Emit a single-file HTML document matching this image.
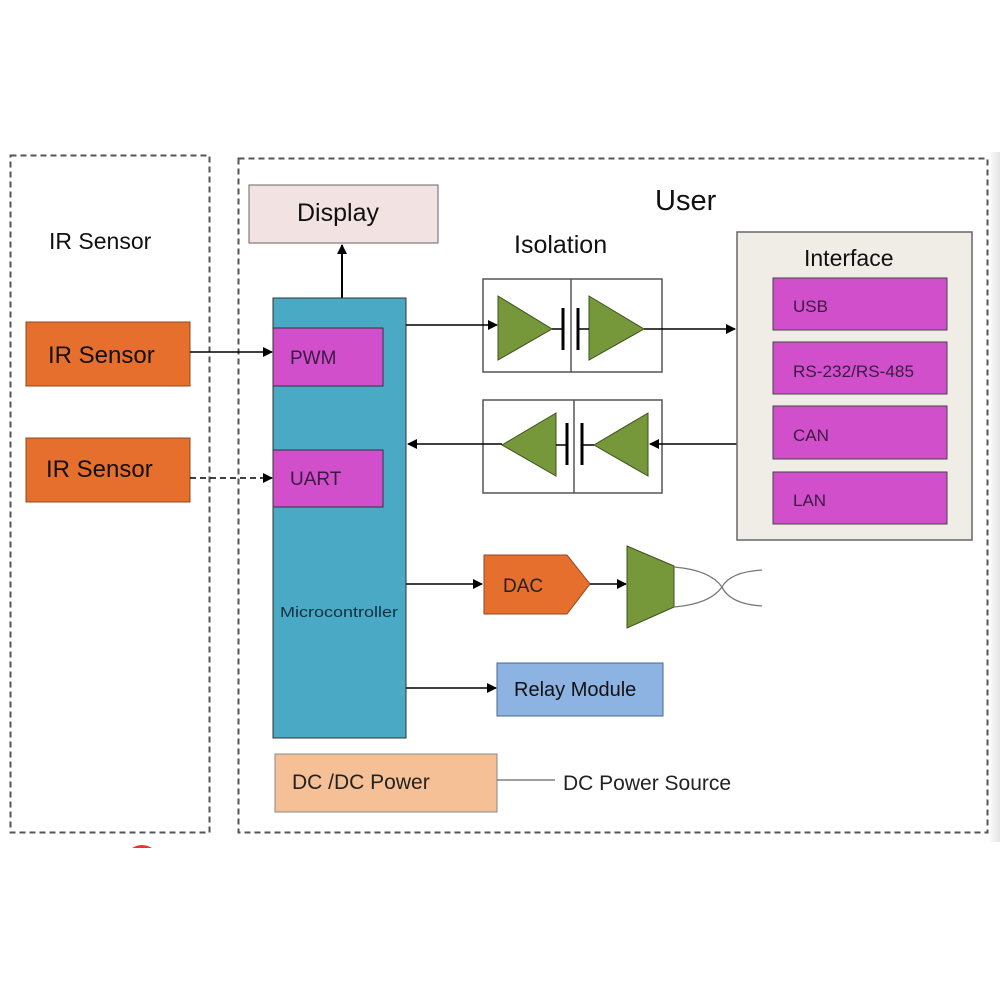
<!DOCTYPE html>
<html><head><meta charset="utf-8"><style>
html,body{margin:0;padding:0;background:#fff;}
svg{display:block;}
text{font-family:"Liberation Sans",sans-serif;}
</style></head><body>
<svg width="1000" height="1000" viewBox="0 0 1000 1000" xmlns="http://www.w3.org/2000/svg">
<defs>
<marker id="ar" markerWidth="10" markerHeight="10" refX="9" refY="5" orient="auto" markerUnits="userSpaceOnUse">
<path d="M0,0 L10,5 L0,10 z" fill="#000"/></marker>
<linearGradient id="sh" x1="0" x2="1"><stop offset="0" stop-color="#fff"/><stop offset="1" stop-color="#e4e4e4"/></linearGradient>
</defs>
<rect x="988" y="152" width="12" height="690" fill="url(#sh)"/>
<rect x="10.5" y="155.5" width="199" height="677" fill="none" stroke="#555" stroke-width="2" stroke-dasharray="6,4"/>
<rect x="238.5" y="158.5" width="749" height="674" fill="none" stroke="#555" stroke-width="2" stroke-dasharray="6,4"/>
<path d="M132,848 q10,-6 20,0z" fill="#e33"/>
<text x="49" y="249" font-size="23" fill="#111">IR Sensor</text>
<text x="655" y="210" font-size="29" fill="#111">User</text>
<text x="514" y="253" font-size="25" fill="#111">Isolation</text>
<rect x="26" y="322" width="164" height="64" fill="#e66f2e" stroke="#8a4a22"/>
<text x="48" y="363" font-size="24" fill="#111">IR Sensor</text>
<rect x="26" y="438" width="164" height="64" fill="#e66f2e" stroke="#8a4a22"/>
<text x="46" y="477" font-size="24" fill="#111">IR Sensor</text>
<rect x="249" y="185" width="189" height="58" fill="#f2e2e2" stroke="#666"/>
<text x="297" y="221" font-size="25" fill="#111">Display</text>
<line x1="342" y1="298" x2="342" y2="245" stroke="#000" stroke-width="2" marker-end="url(#ar)"/>
<rect x="273" y="298" width="133" height="440" fill="#4aaac5" stroke="#333"/>
<rect x="273" y="328" width="110" height="58" fill="#d24fcc" stroke="#333"/>
<text x="290" y="364" font-size="19" fill="#3a1a40">PWM</text>
<rect x="273" y="450" width="110" height="57" fill="#d24fcc" stroke="#333"/>
<text x="290" y="485" font-size="19" fill="#3a1a40">UART</text>
<text x="280" y="617" font-size="15" fill="#103040" textLength="118" lengthAdjust="spacingAndGlyphs">Microcontroller</text>
<line x1="190" y1="352" x2="272" y2="352" stroke="#000" stroke-width="1.5" marker-end="url(#ar)"/>
<line x1="190" y1="478" x2="272" y2="478" stroke="#000" stroke-width="1.5" stroke-dasharray="6,4" marker-end="url(#ar)"/>
<g stroke="#555" stroke-width="1.5" fill="none">
<rect x="483" y="279" width="179" height="93"/><line x1="571" y1="279" x2="571" y2="372"/>
<rect x="483" y="400" width="179" height="93"/><line x1="574" y1="400" x2="574" y2="493"/>
</g>
<line x1="406" y1="325" x2="497" y2="325" stroke="#000" stroke-width="1.5" marker-end="url(#ar)"/>
<g fill="#76973a" stroke="#3d5220">
<path d="M498,296 L552,329 L498,360 z"/><path d="M589,296 L644,329 L589,360 z"/>
<path d="M556,413 L502,445 L556,476 z"/><path d="M648,413 L594,445 L648,476 z"/>
</g>
<g stroke="#000" stroke-width="3"><line x1="563" y1="308" x2="563" y2="350"/><line x1="578" y1="308" x2="578" y2="350"/>
<line x1="567" y1="423" x2="567" y2="465"/><line x1="582" y1="423" x2="582" y2="465"/></g>
<g stroke="#000" stroke-width="1.5"><line x1="552" y1="329" x2="563" y2="329"/><line x1="578" y1="329" x2="589" y2="329"/>
<line x1="556" y1="445" x2="567" y2="445"/><line x1="582" y1="445" x2="594" y2="445"/></g>
<line x1="644" y1="329" x2="735" y2="329" stroke="#000" stroke-width="1.5" marker-end="url(#ar)"/>
<line x1="737" y1="444" x2="650" y2="444" stroke="#000" stroke-width="1.5" marker-end="url(#ar)"/>
<line x1="502" y1="444" x2="408" y2="444" stroke="#000" stroke-width="1.5" marker-end="url(#ar)"/>
<rect x="737" y="232" width="235" height="308" fill="#efede5" stroke="#666" stroke-width="1.5"/>
<text x="804" y="266" font-size="23" fill="#111">Interface</text>
<g fill="#d24fcc" stroke="#444">
<rect x="773" y="278" width="174" height="52"/><rect x="773" y="342" width="174" height="52"/>
<rect x="773" y="406" width="174" height="53"/><rect x="773" y="472" width="174" height="52"/></g>
<g font-size="17" fill="#3a1a40">
<text x="793" y="312">USB</text><text x="793" y="377" textLength="121" lengthAdjust="spacingAndGlyphs">RS-232/RS-485</text>
<text x="793" y="441">CAN</text><text x="793" y="506">LAN</text></g>
<line x1="406" y1="584" x2="482" y2="584" stroke="#000" stroke-width="1.5" marker-end="url(#ar)"/>
<path d="M484,555 L567,555 L590,584 L567,614 L484,614 z" fill="#e66f2e" stroke="#8a4a22"/>
<text x="503" y="592" font-size="19" fill="#222">DAC</text>
<line x1="590" y1="584" x2="626" y2="584" stroke="#000" stroke-width="1.5" marker-end="url(#ar)"/>
<path d="M627,546 L674,566 L674,607 L627,628 z" fill="#76973a" stroke="#3d5220"/>
<path d="M674,567 Q710,570 722,587 Q710,604 674,607 M762,570 Q730,572 722,587 Q730,604 762,606" fill="none" stroke="#777" stroke-width="1.3"/>
<line x1="406" y1="688" x2="496" y2="688" stroke="#000" stroke-width="1.5" marker-end="url(#ar)"/>
<rect x="497" y="663" width="166" height="53" fill="#8db3e2" stroke="#4a6690"/>
<text x="514" y="696" font-size="20" fill="#111">Relay Module</text>
<rect x="275" y="754" width="222" height="58" fill="#f6c096" stroke="#888"/>
<text x="292" y="789" font-size="21" fill="#222">DC /DC Power</text>
<line x1="497" y1="780" x2="555" y2="780" stroke="#666" stroke-width="1.2"/>
<text x="563" y="790" font-size="21" fill="#222">DC Power Source</text>
</svg>
</body></html>
